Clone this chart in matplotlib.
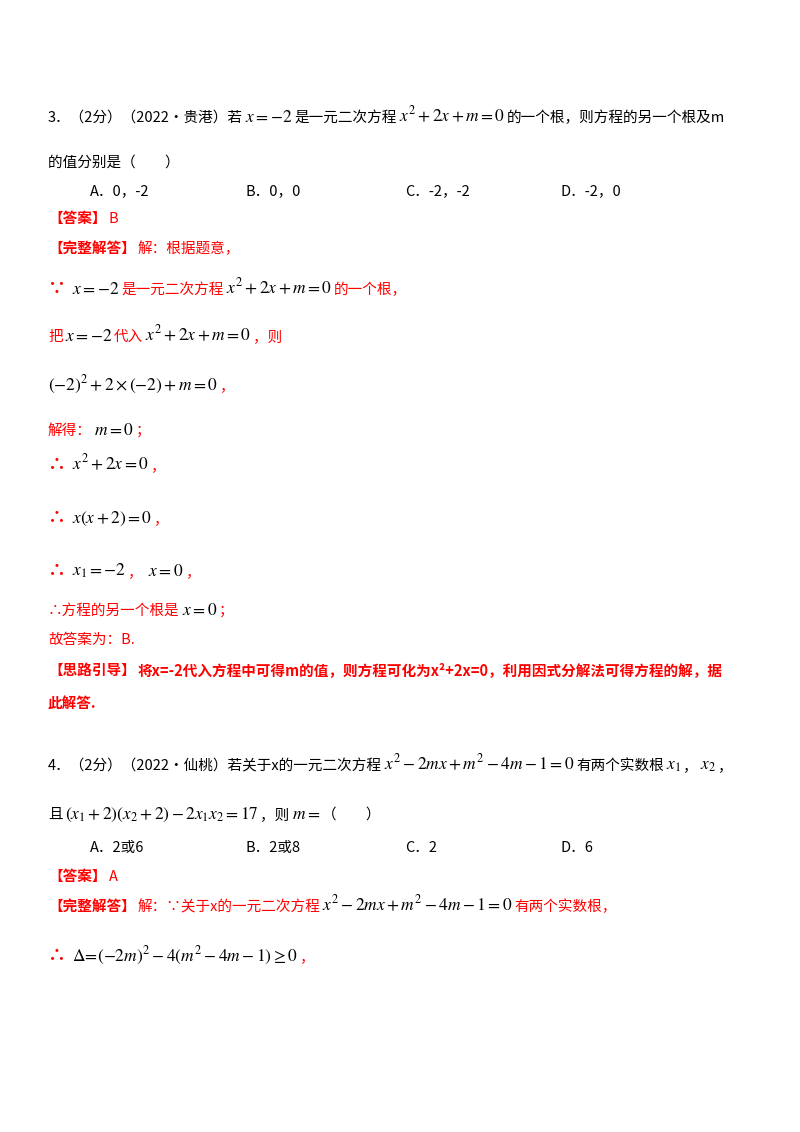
import matplotlib
matplotlib.use("Agg")
import matplotlib.pyplot as plt

plt.rcParams['font.family'] = ['Noto Sans CJK SC', 'DejaVu Sans']
plt.rcParams['mathtext.fontset'] = 'stix'

K = '#000000'
R = '#FF0000'

# each line: (y_pixel, x_start, [(text, color, kind)]) kind: t=text, b=bold text, m=math, s=symbol
lines = [
    (122, 48, [("3．（2分）（2022•贵港）若", K, 't'), ("$x=-2$", K, 'm'), ("是一元二次方程", K, 't'),
               ("$x^2+2x+m=0$", K, 'm'), ("的一个根，则方程的另一个根及m", K, 't')]),
    (167, 48, [("的值分别是（　　）", K, 't')]),
    (223, 48, [("【答案】", R, 'b'), ("B", R, 't')]),
    (253, 48, [("【完整解答】", R, 'b'), ("解：根据题意，", R, 't')]),
    (294, 48, [("∵ ", R, 's'), ("$x=-2$", K, 'm'), ("是一元二次方程", R, 't'), ("$x^2+2x+m=0$", K, 'm'), ("的一个根，", R, 't')]),
    (341, 48, [("把", R, 't'), ("$x=-2$", K, 'm'), ("代入", R, 't'), ("$x^2+2x+m=0$", K, 'm'), ("，则", R, 't')]),
    (390, 48, [("$(-2)^2+2\\times(-2)+m=0$", K, 'm'), ("，", R, 't')]),
    (435, 48, [("解得：", R, 't'), ("$m=0$", K, 'm'), ("；", R, 't')]),
    (470, 48, [("∴ ", R, 's'), ("$x^2+2x=0$", K, 'm'), ("，", R, 't')]),
    (523, 48, [("∴ ", R, 's'), ("$x(x+2)=0$", K, 'm'), ("，", R, 't')]),
    (576, 48, [("∴ ", R, 's'), ("$x_1=-2$", K, 'm'), ("， ", R, 't'), ("$x=0$", K, 'm'), ("，", R, 't')]),
    (615, 48, [("∴方程的另一个根是", R, 't'), ("$x=0$", K, 'm'), ("；", R, 't')]),
    (644, 48, [("故答案为：B.", R, 't')]),
    (675, 48, [("【思路引导】", R, 'b'), ("将x=-2代入方程中可得m的值，则方程可化为x²+2x=0，利用因式分解法可得方程的解，据", R, 'b')]),
    (708, 48, [("此解答.", R, 'b')]),
    (770, 48, [("4．（2分）（2022•仙桃）若关于x的一元二次方程", K, 't'), ("$x^2-2mx+m^2-4m-1=0$", K, 'm'),
               ("有两个实数根", K, 't'), ("$x_1$", K, 'm'), ("，", K, 't'), ("$x_2$", K, 'm'), ("，", K, 't')]),
    (819, 48, [("且", K, 't'), ("$\\left(x_1+2\\right)\\left(x_2+2\\right)-2x_1x_2=17$", K, 'm'), ("，则", K, 't'),
               ("$m=$", K, 'm'), ("（　　）", K, 't')]),
    (881, 48, [("【答案】", R, 'b'), ("A", R, 't')]),
    (911, 48, [("【完整解答】", R, 'b'), ("解：∵关于x的一元二次方程", R, 't'), ("$x^2-2mx+m^2-4m-1=0$", K, 'm'), ("有两个实数根，", R, 't')]),
    (961, 48, [("∴ ", R, 's'), ("$\\Delta\\!=\\!(-2m)^2-4(m^2-4m-1)\\geq0$", K, 'm'), ("，", R, 't')]),
]

options_y = [195, 852]
options = [["A．0，-2", "B．0，0", "C．-2，-2", "D．-2，0"],
           ["A．2或6", "B．2或8", "C．2", "D．6"]]
options_x = [90, 245, 405, 560]

W, H = 800, 1132
fig = plt.figure(figsize=(8, 11.32), dpi=100)
fig.patch.set_facecolor('white')
renderer = fig.canvas.get_renderer()

for y, x0, segs in lines:
    x = x0
    for txt, col, kind in segs:
        if kind == 'm':
            fs, fw = 12.5, 'normal'
        elif kind == 's':
            fs, fw = 13, 'bold'
        else:
            fs, fw = 10.5, ('bold' if kind == 'b' else 'normal')
        t = fig.text(x / W, 1 - y / H, txt, color=col, fontsize=fs, fontweight=fw, va='baseline', ha='left')
        bb = t.get_window_extent(renderer=renderer)
        x += bb.width + 2

for y, opts in zip(options_y, options):
    for x, o in zip(options_x, opts):
        fig.text(x / W, 1 - y / H, o, color=K, fontsize=10.5, va='baseline', ha='left')

fig.savefig("out.png", dpi=100, facecolor='white')
